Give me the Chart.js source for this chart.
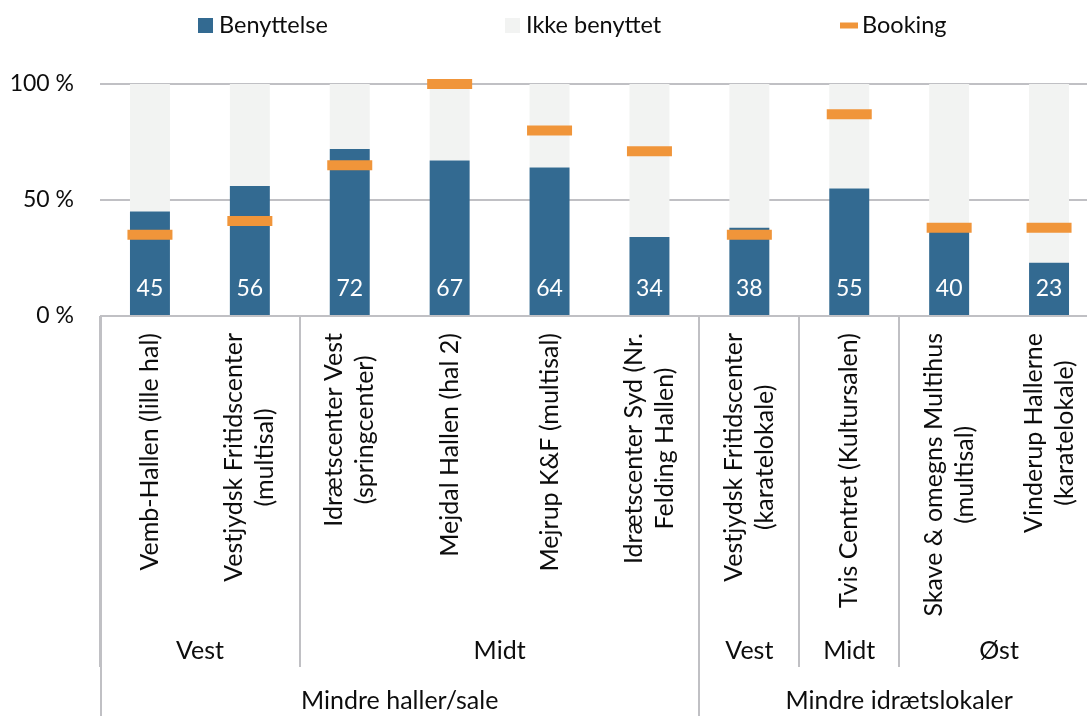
<!DOCTYPE html>
<html>
<head>
<meta charset="utf-8">
<script src="https://cdn.jsdelivr.net/npm/chart.js@4"></script>
<style>
  html, body { margin: 0; padding: 0; background: #ffffff; overflow: hidden; }
  #wrap { width: 1087px; height: 716px; overflow: hidden; position: relative; }
  #c { position: absolute; left: 0; top: 0; }
</style>
</head>
<body>
<div id="wrap"><canvas id="c" width="1099" height="716"></canvas></div>
<script>
// ---- data ----
const categories = [
  ["Vemb-Hallen (lille hal)"],
  ["Vestjydsk Fritidscenter", "(multisal)"],
  ["Idrætscenter Vest", "(springcenter)"],
  ["Mejdal Hallen (hal 2)"],
  ["Mejrup K&F (multisal)"],
  ["Idrætscenter Syd (Nr.", "Felding Hallen)"],
  ["Vestjydsk Fritidscenter", "(karatelokale)"],
  ["Tvis Centret (Kultursalen)"],
  ["Skave & omegns Multihus", "(multisal)"],
  ["Vinderup Hallerne", "(karatelokale)"]
];
const regionLabels = ["Vest", "Midt", "Vest", "Midt", "Øst"];
const regionSpans = [2, 4, 1, 1, 2];
const groupLabels = ["Mindre haller/sale", "Mindre idrætslokaler"];
const groupSpans = [6, 4];

const benyttelse = [45, 56, 72, 67, 64, 34, 38, 55, 40, 23];
const ikkeBenyttet = [55, 44, 28, 33, 36, 66, 62, 45, 60, 77];
const booking = [35, 41, 65, 100, 80, 71, 35, 87, 38, 38];
const yTicks = [0, 50, 100];

const seriesNames = ["Benyttelse", "Ikke benyttet", "Booking"];

// ---- styles ----
const FONT = "Lato, 'Open Sans', sans-serif";
const FS_NUM = 23;
const FS_LEG = 23.5;
const FS_X = 25;
const C_BLUE = "#336a91";
const C_GREY = "#f2f3f2";
const C_ORANGE = "#f0953a";
const C_LINE = "#c0c0c4";
const C_TEXT = "#0d0d0d";
const LEGEND_X = [198, 505, 840];

const legendPlugin = {
  id: "customLegend",
  afterDraw(chart) {
    const ctx = chart.ctx;
    ctx.save();
    ctx.font = FS_LEG + "px " + FONT;
    ctx.textBaseline = "middle";
    ctx.textAlign = "left";
    const box = 15, gapTxt = 6, cy = 25.5;
    seriesNames.forEach((n, i) => {
      const xx = LEGEND_X[i];
      if (i === 2) {
        ctx.fillStyle = C_ORANGE;
        ctx.fillRect(xx, cy - 3, 18, 6);
      } else {
        ctx.fillStyle = i === 0 ? C_BLUE : C_GREY;
        ctx.fillRect(xx, cy - box / 2, box, box);
      }
      ctx.fillStyle = C_TEXT;
      ctx.fillText(n, xx + (i === 2 ? 22 : box + gapTxt), cy);
    });
    ctx.restore();
  }
};

const valueLabelPlugin = {
  id: "valueLabels",
  afterDatasetsDraw(chart) {
    const ctx = chart.ctx;
    const meta = chart.getDatasetMeta(1);
    const y0 = chart.scales.y.getPixelForValue(0);
    ctx.save();
    ctx.font = FS_NUM + "px " + FONT;
    ctx.fillStyle = "#ffffff";
    ctx.textAlign = "center";
    ctx.textBaseline = "middle";
    meta.data.forEach((bar, i) => {
      ctx.fillText(String(benyttelse[i]), bar.x, y0 - 27);
    });
    ctx.restore();
  }
};

const xAxisPlugin = {
  id: "multiLevelX",
  afterDraw(chart) {
    const ctx = chart.ctx;
    const xs = chart.scales.x;
    const top = chart.chartArea.bottom;
    const half = (xs.getPixelForValue(1) - xs.getPixelForValue(0)) / 2;
    const boundary = i => xs.getPixelForValue(i) - half;
    const LINE = 31;
    ctx.save();
    ctx.font = FS_X + "px " + FONT;
    ctx.fillStyle = C_TEXT;
    // item labels (rotated)
    categories.forEach((lines, i) => {
      const cx = xs.getPixelForValue(i);
      const maxW = Math.max(...lines.map(l => ctx.measureText(l).width));
      const cy = top + 17 + maxW / 2;
      ctx.save();
      ctx.translate(cx, cy);
      ctx.rotate(-Math.PI / 2);
      ctx.textAlign = "center";
      ctx.textBaseline = "middle";
      const n = lines.length;
      lines.forEach((l, j) => ctx.fillText(l, 0, (j - (n - 1) / 2) * LINE));
      ctx.restore();
    });
    ctx.strokeStyle = C_LINE;
    ctx.lineWidth = 2;
    ctx.textAlign = "center";
    ctx.textBaseline = "middle";
    // regions
    let idx = 0;
    regionSpans.forEach((s, k) => {
      const x0 = boundary(idx), x1 = boundary(idx + s);
      ctx.fillText(regionLabels[k], (x0 + x1) / 2, 651);
      ctx.beginPath();
      ctx.moveTo(Math.round(x0), top);
      ctx.lineTo(Math.round(x0), 667);
      ctx.stroke();
      idx += s;
    });
    // groups
    idx = 0;
    groupSpans.forEach((s, k) => {
      const x0 = boundary(idx), x1 = boundary(idx + s);
      ctx.fillText(groupLabels[k], (x0 + x1) / 2, 701);
      ctx.beginPath();
      ctx.moveTo(Math.round(x0) + (idx === 0 ? 1 : 0), top);
      ctx.lineTo(Math.round(x0) + (idx === 0 ? 1 : 0), 716);
      ctx.stroke();
      idx += s;
    });
    ctx.restore();
  }
};

new Chart(document.getElementById("c"), {
  data: {
    labels: categories.map(c => c.join(" ")),
    datasets: [
      {
        type: "line",
        label: seriesNames[2],
        data: booking,
        showLine: false,
        pointStyle: "line",
        pointRadius: 22.5,
        pointHoverRadius: 22.5,
        pointBorderWidth: 10,
        pointHoverBorderWidth: 10,
        borderColor: C_ORANGE,
        backgroundColor: C_ORANGE,
        clip: false,
        order: 0,
        stack: "booking"
      },
      {
        type: "bar",
        label: seriesNames[0],
        data: benyttelse,
        backgroundColor: C_BLUE,
        borderWidth: 0,
        barPercentage: 0.4,
        categoryPercentage: 1,
        order: 1,
        stack: "s"
      },
      {
        type: "bar",
        label: seriesNames[1],
        data: ikkeBenyttet,
        backgroundColor: C_GREY,
        borderWidth: 0,
        barPercentage: 0.4,
        categoryPercentage: 1,
        order: 1,
        stack: "s"
      }
    ]
  },
  options: {
    responsive: false,
    animation: false,
    devicePixelRatio: 1,
    layout: { autoPadding: false, padding: { top: 84, left: 0, right: 0, bottom: 0 } },
    plugins: {
      legend: { display: false },
      tooltip: { enabled: false }
    },
    scales: {
      x: {
        stacked: true,
        grid: { display: false, drawTicks: false },
        border: { display: false },
        ticks: { display: false },
        afterFit: s => { s.height = 400; }
      },
      y: {
        stacked: true,
        min: 0,
        max: 100,
        afterBuildTicks: s => { s.ticks = yTicks.map(v => ({ value: v })); },
        grid: { color: C_LINE, lineWidth: 2, drawTicks: false },
        border: { display: false },
        ticks: {
          padding: 26,
          color: C_TEXT,
          font: { family: FONT, size: FS_NUM },
          callback: v => v + " %"
        },
        afterFit: s => { s.width = 100; }
      }
    }
  },
  plugins: [legendPlugin, valueLabelPlugin, xAxisPlugin]
});
</script>
</body>
</html>
